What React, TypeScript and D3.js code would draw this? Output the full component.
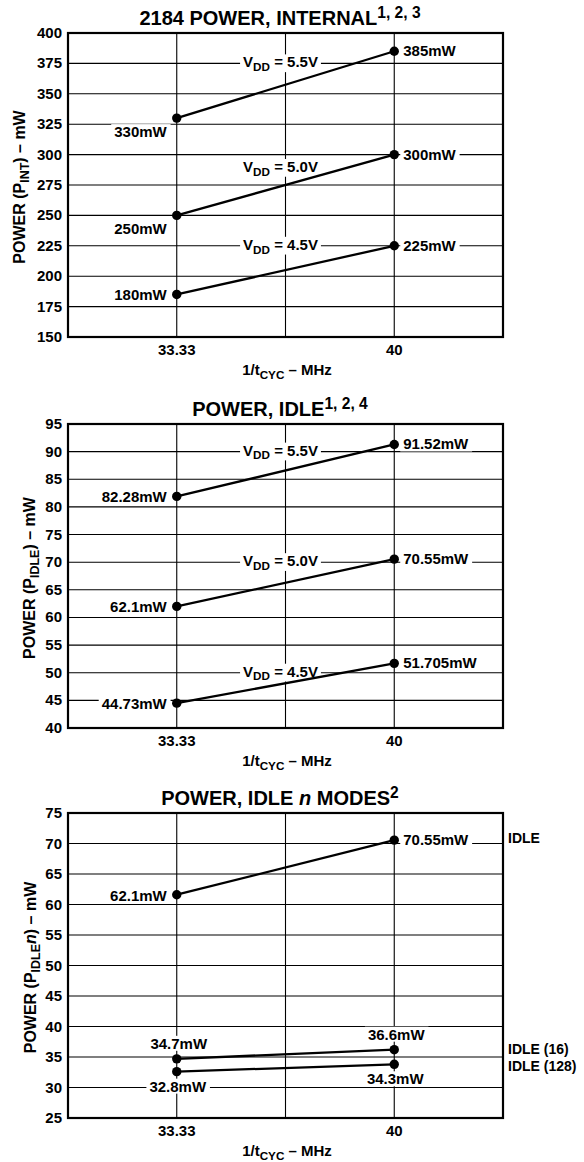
import React, { useEffect, useRef } from 'react';
import * as d3 from 'd3';

// x axis, shared by the three panels
const freqMHz = [33.33, 40];
const freqTickLabels = ['33.33', '40'];

// panel 1: internal power
const pIntTicks = [150, 175, 200, 225, 250, 275, 300, 325, 350, 375, 400];
const pIntVdd55 = [330, 385];
const pIntVdd50 = [250, 300];
const pIntVdd45 = [185, 225];
const pIntLabels55 = ['330mW', '385mW'];
const pIntLabels50 = ['250mW', '300mW'];
const pIntLabels45 = ['180mW', '225mW'];
const pIntVddLevels = [375, 289, 225];

// panel 2: idle power
const pIdleTicks = [40, 45, 50, 55, 60, 65, 70, 75, 80, 85, 90, 95];
const pIdleVdd55 = [81.9, 91.3];
const pIdleVdd50 = [62.0, 70.55];
const pIdleVdd45 = [44.5, 51.7];
const pIdleLabels55 = ['82.28mW', '91.52mW'];
const pIdleLabels50 = ['62.1mW', '70.55mW'];
const pIdleLabels45 = ['44.73mW', '51.705mW'];
const pIdleVddLevels = [90, 70, 50];

const vddTexts = ['5.5V', '5.0V', '4.5V'];

// panel 3: idle n modes
const pModeTicks = [25, 30, 35, 40, 45, 50, 55, 60, 65, 70, 75];
const pModeIdle = [61.6, 70.55];
const pModeIdle16 = [34.7, 36.2];
const pModeIdle128 = [32.6, 33.8];
const pModeLabelsIdle = ['62.1mW', '70.55mW'];
const pModeLabels16 = ['34.7mW', '36.6mW'];
const pModeLabels128 = ['32.8mW', '34.3mW'];
const pModeNames = ['IDLE', 'IDLE (16)', 'IDLE (128)'];

const FONT = "'Liberation Sans', Arial, Helvetica, sans-serif";
const FS = 15;

type Part = { t: string; kind?: 'sub' | 'sup' | 'it' };

const place: Record<string, { dx: number; dy: number; anchor: string }> = {
  right: { dx: 9, dy: 5, anchor: 'start' },
  left: { dx: -10, dy: 6, anchor: 'end' },
  belowLeft: { dx: -10, dy: 19, anchor: 'end' },
  above: { dx: 2, dy: -10, anchor: 'middle' },
  below: { dx: 1, dy: 20, anchor: 'middle' },
};
const nameOffsets = [3, 4, 7];

function rich(text: any, parts: Part[], size: number) {
  let shift = 0;
  parts.forEach(p => {
    const target = p.kind === 'sub' ? size * 0.25 : p.kind === 'sup' ? -size * 0.36 : 0;
    const ts = text.append('tspan').attr('dy', target - shift).text(p.t);
    shift = target;
    if (p.kind === 'sub' || p.kind === 'sup') ts.attr('font-size', size * 0.78);
    if (p.kind === 'it') ts.attr('font-style', 'italic');
  });
}

function boxed(g: any, x: number, y: number, anchor: string, parts: Part[], size = FS) {
  const box = g.append('rect').attr('fill', '#fff');
  const text = g.append('text')
    .attr('x', x)
    .attr('y', y)
    .attr('text-anchor', anchor)
    .attr('font-size', size);
  rich(text, parts, size);
  const b = (text.node() as SVGTextElement).getBBox();
  box.attr('x', b.x - 3).attr('y', b.y + 1).attr('width', b.width + 6).attr('height', b.height - 2);
  return text;
}

interface Series { values: number[]; labels: string[]; placements: string[] }
interface Panel {
  top: number;
  bottom: number;
  ticks: number[];
  series: Series[];
  title: Part[];
  yLabel: Part[];
  yLabelX: number;
  vddLevels?: number[];
  names?: string[];
}

const panels: Panel[] = [
  {
    top: 33, bottom: 337, ticks: pIntTicks,
    series: [
      { values: pIntVdd55, labels: pIntLabels55, placements: ['belowLeft', 'right'] },
      { values: pIntVdd50, labels: pIntLabels50, placements: ['belowLeft', 'right'] },
      { values: pIntVdd45, labels: pIntLabels45, placements: ['left', 'right'] },
    ],
    title: [{ t: '2184 POWER, INTERNAL' }, { t: '1, 2, 3', kind: 'sup' }],
    yLabel: [{ t: 'POWER (P' }, { t: 'INT', kind: 'sub' }, { t: ') – mW' }],
    yLabelX: 25,
    vddLevels: pIntVddLevels,
  },
  {
    top: 424, bottom: 728, ticks: pIdleTicks,
    series: [
      { values: pIdleVdd55, labels: pIdleLabels55, placements: ['left', 'right'] },
      { values: pIdleVdd50, labels: pIdleLabels50, placements: ['left', 'right'] },
      { values: pIdleVdd45, labels: pIdleLabels45, placements: ['left', 'right'] },
    ],
    title: [{ t: 'POWER, IDLE' }, { t: '1, 2, 4', kind: 'sup' }],
    yLabel: [{ t: 'POWER (P' }, { t: 'IDLE', kind: 'sub' }, { t: ') – mW' }],
    yLabelX: 35,
    vddLevels: pIdleVddLevels,
  },
  {
    top: 813, bottom: 1118, ticks: pModeTicks,
    series: [
      { values: pModeIdle, labels: pModeLabelsIdle, placements: ['left', 'right'] },
      { values: pModeIdle16, labels: pModeLabels16, placements: ['above', 'above'] },
      { values: pModeIdle128, labels: pModeLabels128, placements: ['below', 'below'] },
    ],
    title: [{ t: 'POWER, IDLE ' }, { t: 'n', kind: 'it' }, { t: ' MODES' }, { t: '2', kind: 'sup' }],
    yLabel: [{ t: 'POWER (P' }, { t: 'IDLE', kind: 'sub' }, { t: 'n', kind: 'it' }, { t: ') – mW' }],
    yLabelX: 36,
    names: pModeNames,
  },
];

const App: React.FC = () => {
  const svgRef = useRef<SVGSVGElement>(null);

  useEffect(() => {
    if (!svgRef.current) return;
    const svg = d3.select(svgRef.current);
    svg.selectAll('*').remove();

    const step = freqMHz[1] - freqMHz[0];
    const x = d3.scaleLinear()
      .domain([freqMHz[0] - step / 2, freqMHz[1] + step / 2])
      .range([68, 503]);
    const xGrid = [freqMHz[0], (freqMHz[0] + freqMHz[1]) / 2, freqMHz[1]];

    panels.forEach(p => {
      const y = d3.scaleLinear().domain(d3.extent(p.ticks) as [number, number]).range([p.bottom, p.top]);
      const g = svg.append('g')
        .attr('font-family', FONT)
        .attr('font-weight', 'bold')
        .attr('fill', '#000');

      // grid
      g.append('g').selectAll('line.h').data(p.ticks).enter().append('line')
        .attr('x1', x.range()[0]).attr('x2', x.range()[1])
        .attr('y1', d => y(d)).attr('y2', d => y(d))
        .attr('stroke', '#000').attr('stroke-width', 1.1);
      g.append('g').selectAll('line.v').data(xGrid).enter().append('line')
        .attr('x1', d => x(d)).attr('x2', d => x(d))
        .attr('y1', p.top).attr('y2', p.bottom)
        .attr('stroke', '#000').attr('stroke-width', 1.1);

      // y ticks
      g.append('g').selectAll('text').data(p.ticks).enter().append('text')
        .attr('x', 62).attr('y', d => y(d) + 5)
        .attr('text-anchor', 'end').attr('font-size', FS)
        .text(d => d);

      // x ticks
      g.append('g').selectAll('text').data(freqMHz).enter().append('text')
        .attr('x', d => x(d)).attr('y', p.bottom + 18)
        .attr('text-anchor', 'middle').attr('font-size', FS)
        .text((_, i) => freqTickLabels[i]);

      // x label
      const xl = g.append('text').attr('x', 287).attr('y', p.bottom + 38)
        .attr('text-anchor', 'middle').attr('font-size', FS);
      rich(xl, [{ t: '1/t' }, { t: 'CYC', kind: 'sub' }, { t: ' – MHz' }], FS);

      // y label
      const yl = g.append('text')
        .attr('transform', `translate(${p.yLabelX},${(p.top + p.bottom) / 2 + 2}) rotate(-90)`)
        .attr('text-anchor', 'middle').attr('font-size', 16);
      rich(yl, p.yLabel, 16);

      // title
      const tt = g.append('text').attr('x', 280).attr('y', p.top - 8)
        .attr('text-anchor', 'middle').attr('font-size', 20);
      rich(tt, p.title, 20);

      // VDD annotations
      if (p.vddLevels) {
        p.vddLevels.forEach((v, i) => {
          boxed(g, x(xGrid[1]) - 5, y(v) + 4, 'middle',
            [{ t: 'V' }, { t: 'DD', kind: 'sub' }, { t: ` = ${vddTexts[i]}` }]);
        });
      }

      // point labels
      p.series.forEach(s => {
        s.values.forEach((v, i) => {
          const pl = place[s.placements[i]];
          boxed(g, x(freqMHz[i]) + pl.dx, y(v) + pl.dy, pl.anchor, [{ t: s.labels[i] }]);
        });
      });

      // series names at the right
      if (p.names) {
        p.names.forEach((n, i) => {
          const s = p.series[i];
          g.append('text')
            .attr('x', x.range()[1] + 5)
            .attr('y', y(s.values[1]) + nameOffsets[i])
            .attr('font-size', 14)
            .text(n);
        });
      }

      // lines and points
      const line = d3.line<number>().x((_, i) => x(freqMHz[i])).y(d => y(d));
      p.series.forEach(s => {
        g.append('path').attr('d', line(s.values))
          .attr('fill', 'none').attr('stroke', '#000').attr('stroke-width', 2.3);
        g.append('g').selectAll('circle').data(s.values).enter().append('circle')
          .attr('cx', (_, i) => x(freqMHz[i])).attr('cy', d => y(d)).attr('r', 4.7)
          .attr('fill', '#000');
      });

      // frame
      g.append('rect')
        .attr('x', x.range()[0]).attr('y', p.top)
        .attr('width', x.range()[1] - x.range()[0]).attr('height', p.bottom - p.top)
        .attr('fill', 'none').attr('stroke', '#000').attr('stroke-width', 2.2);
    });
  }, []);

  return (
    <svg
      ref={svgRef}
      width={584}
      height={1162}
      viewBox="0 0 584 1162"
      style={{ position: 'absolute', left: 0, top: 0, background: '#fff' }}
    />
  );
};

export default App;
